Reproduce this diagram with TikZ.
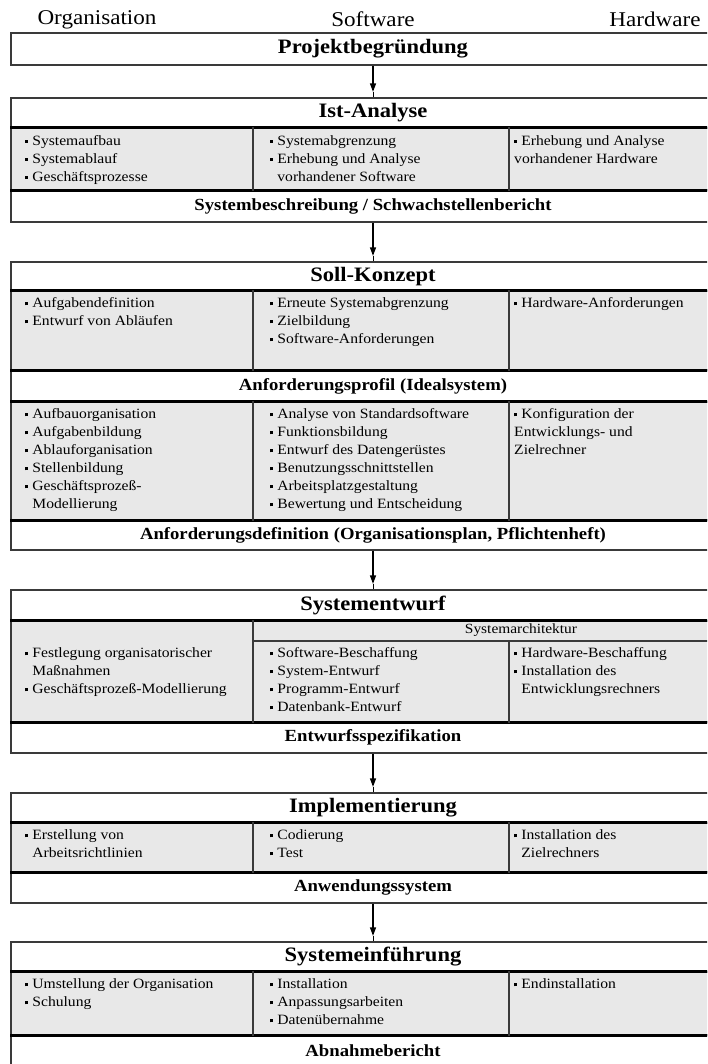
\documentclass[tikz,border=0pt]{standalone}
\usepackage{fontspec}
\setmainfont{Liberation Serif}[FakeStretch=1.1]
\usetikzlibrary{arrows.meta}

\definecolor{rule}{HTML}{3A3A3A}
\definecolor{cellgray}{HTML}{E8E8E8}

% bullet item and continuation line inside a cell
\newcommand\itm{\strut\rule[2.4pt]{3.2pt}{3.2pt}\hspace{4pt}}
\newcommand\cnt{\strut\hspace{7.2pt}}
\newcommand\cnz{\strut}

\tikzset{
  boxframe/.style={draw=rule, line width=1.1pt},
  titlebox/.style={boxframe, minimum width=724pt, minimum height=#1, inner sep=0pt,
    font=\fontsize{20.5}{24}\selectfont\bfseries},
  graybox/.style={boxframe, fill=cellgray, minimum width=724pt, minimum height=#1, inner sep=0pt},
  bandbox/.style={boxframe, fill=white, minimum width=724pt, minimum height=#1, inner sep=0pt,
    font=\fontsize{17}{20}\selectfont\bfseries},
  cell/.style={anchor=north west, inner sep=0pt, align=left,
    font=\fontsize{14.2}{18}\selectfont},
  colhead/.style={inner sep=0pt, font=\fontsize{21}{24}\selectfont},
  sepline/.style={black, line width=2.4pt},
  divider/.style={draw=rule, line width=1.1pt},
  stem/.style={black, line width=2.6pt, -{Triangle[width=5.5pt,length=9pt]}},
  stemtail/.style={black, line width=0.9pt},
}

\begin{document}
\begin{tikzpicture}[x=1pt, y=-1pt]
\useasboundingbox (0,0) rectangle (707,1064);
\clip (0,0) rectangle (707,1064);
\fill[white] (0,0) rectangle (707,1064);

% column x positions
\coordinate (c1) at (253,0);
\coordinate (c2) at (509,0);

% column headings
\node[colhead] (hOrg) at (97,19.5) {Organisation};
\node[colhead] (hSw) at (373,19.5) {Software};
\node[colhead] (hHw) at (655,19.5) {Hardware};

% ---------- Projektbegründung
\node[titlebox=32pt] (projekt) at (373,49) {Projektbegründung};

% ---------- Ist-Analyse
\node[titlebox=30pt] (ist) at (373,113) {Ist-Analyse};
\node[graybox=62pt] (istrow) at (373,159) {};
\node[bandbox=32pt] (istout) at (373,206) {Systembeschreibung / Schwachstellenbericht};
\draw[sepline] (istrow.north west) -- (istrow.north east);
\draw[sepline] (istrow.south west) -- (istrow.south east);
\draw[divider] (c1 |- istrow.north) -- (c1 |- istrow.south);
\draw[divider] (c2 |- istrow.north) -- (c2 |- istrow.south);
\node[cell] (ist1) at (25,132.5) {\itm Systemaufbau\\ \itm Systemablauf\\ \itm Geschäftsprozesse};
\node[cell] (ist2) at (270,132.5) {\itm Systemabgrenzung\\ \itm Erhebung und Analyse\\ \cnt vorhandener Software};
\node[cell] (ist3) at (514,132.5) {\itm Erhebung und Analyse\\ \cnz vorhandener Hardware};

% ---------- Soll-Konzept
\node[titlebox=29pt] (soll) at (373,276.5) {Soll-Konzept};
\node[graybox=79pt] (sollrow) at (373,330.5) {};
\node[bandbox=32pt] (profil) at (373,386) {Anforderungsprofil (Idealsystem)};
\node[graybox=118pt] (profilrow) at (373,461) {};
\node[bandbox=30pt] (anfdef) at (373,535) {Anforderungsdefinition (Organisationsplan, Pflichtenheft)};
\draw[sepline] (sollrow.north west) -- (sollrow.north east);
\draw[sepline] (sollrow.south west) -- (sollrow.south east);
\draw[sepline] (profilrow.north west) -- (profilrow.north east);
\draw[sepline] (profilrow.south west) -- (profilrow.south east);
\draw[divider] (c1 |- sollrow.north) -- (c1 |- sollrow.south);
\draw[divider] (c2 |- sollrow.north) -- (c2 |- sollrow.south);
\draw[divider] (c1 |- profilrow.north) -- (c1 |- profilrow.south);
\draw[divider] (c2 |- profilrow.north) -- (c2 |- profilrow.south);
\node[cell] (soll1) at (25,295) {\itm Aufgabendefinition\\ \itm Entwurf von Abläufen};
\node[cell] (soll2) at (270,295) {\itm Erneute Systemabgrenzung\\ \itm Zielbildung\\ \itm Software-Anforderungen};
\node[cell] (soll3) at (514,295) {\itm Hardware-Anforderungen};
\node[cell] (prof1) at (25,406) {\itm Aufbauorganisation\\ \itm Aufgabenbildung\\ \itm Ablauforganisation\\ \itm Stellenbildung\\ \itm Geschäftsprozeß-\\ \cnt Modellierung};
\node[cell] (prof2) at (270,406) {\itm Analyse von Standardsoftware\\ \itm Funktionsbildung\\ \itm Entwurf des Datengerüstes\\ \itm Benutzungsschnittstellen\\ \itm Arbeitsplatzgestaltung\\ \itm Bewertung und Entscheidung};
\node[cell] (prof3) at (514,406) {\itm Konfiguration der\\ \cnz Entwicklungs- und\\ \cnz Zielrechner};

% ---------- Systementwurf
\node[titlebox=31pt] (entwurf) at (373,605.5) {Systementwurf};
\node[graybox=101pt] (entwurfrow) at (373,671.5) {};
\node[bandbox=31pt] (spez) at (373,737.5) {Entwurfsspezifikation};
\draw[sepline] (entwurfrow.north west) -- (entwurfrow.north east);
\draw[sepline] (entwurfrow.south west) -- (entwurfrow.south east);
\coordinate (archline) at (0,641);
\draw[divider] (c1 |- entwurfrow.north) -- (c1 |- entwurfrow.south);
\draw[divider] (c1 |- archline) -- (720,641);
\draw[divider] (c2 |- archline) -- (c2 |- entwurfrow.south);
\node[inner sep=0pt, font=\fontsize{14}{18}\selectfont] (arch) at (521,630.5) {Systemarchitektur};
\node[cell] (ent1) at (25,645) {\itm Festlegung organisatorischer\\ \cnt Maßnahmen\\ \itm Geschäftsprozeß-Modellierung};
\node[cell] (ent2) at (270,645) {\itm Software-Beschaffung\\ \itm System-Entwurf\\ \itm Programm-Entwurf\\ \itm Datenbank-Entwurf};
\node[cell] (ent3) at (514,645) {\itm Hardware-Beschaffung\\ \itm Installation des\\ \cnt Entwicklungsrechners};

% ---------- Implementierung
\node[titlebox=30pt] (impl) at (373,808) {Implementierung};
\node[graybox=49pt] (implrow) at (373,847.5) {};
\node[bandbox=31pt] (anw) at (373,887.5) {Anwendungssystem};
\draw[sepline] (implrow.north west) -- (implrow.north east);
\draw[sepline] (implrow.south west) -- (implrow.south east);
\draw[divider] (c1 |- implrow.north) -- (c1 |- implrow.south);
\draw[divider] (c2 |- implrow.north) -- (c2 |- implrow.south);
\node[cell] (impl1) at (25,827) {\itm Erstellung von\\ \cnt Arbeitsrichtlinien};
\node[cell] (impl2) at (270,827) {\itm Codierung\\ \itm Test};
\node[cell] (impl3) at (514,827) {\itm Installation des\\ \cnt Zielrechners};

% ---------- Systemeinführung
\node[titlebox=30pt] (einf) at (373,957) {Systemeinführung};
\node[graybox=63pt] (einfrow) at (373,1003.5) {};
\node[bandbox=32pt] (abnahme) at (373,1051) {Abnahmebericht};
\draw[sepline] (einfrow.north west) -- (einfrow.north east);
\draw[sepline] (einfrow.south west) -- (einfrow.south east);
\draw[divider] (c1 |- einfrow.north) -- (c1 |- einfrow.south);
\draw[divider] (c2 |- einfrow.north) -- (c2 |- einfrow.south);
\node[cell] (einf1) at (25,976) {\itm Umstellung der Organisation\\ \itm Schulung};
\node[cell] (einf2) at (270,976) {\itm Installation\\ \itm Anpassungsarbeiten\\ \itm Datenübernahme};
\node[cell] (einf3) at (514,976) {\itm Endinstallation};

% ---------- arrows between the phases
\draw[stem] (projekt.south) -- ([yshift=5pt]ist.north);
\draw[stemtail] ([yshift=5pt]ist.north) -- (ist.north);
\draw[stem] (istout.south) -- ([yshift=5pt]soll.north);
\draw[stemtail] ([yshift=5pt]soll.north) -- (soll.north);
\draw[stem] (anfdef.south) -- ([yshift=5pt]entwurf.north);
\draw[stemtail] ([yshift=5pt]entwurf.north) -- (entwurf.north);
\draw[stem] (spez.south) -- ([yshift=5pt]impl.north);
\draw[stemtail] ([yshift=5pt]impl.north) -- (impl.north);
\draw[stem] (anw.south) -- ([yshift=5pt]einf.north);
\draw[stemtail] ([yshift=5pt]einf.north) -- (einf.north);
\end{tikzpicture}
\end{document}
